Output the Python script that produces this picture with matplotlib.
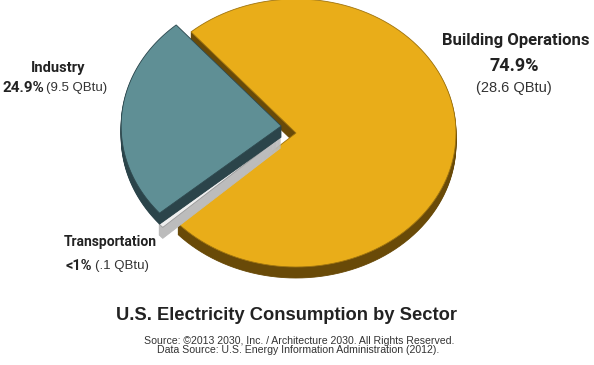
import numpy as np
import matplotlib
matplotlib.use("Agg")
import matplotlib.pyplot as plt
from matplotlib.patches import Polygon

# data (QBtu)
sectors = ["Industry", "Transportation", "Building Operations"]
qbtu = [9.5, 0.1, 28.6]
pct_labels = ["24.9%", "<1%", "74.9%"]
qbtu_labels = ["(9.5 QBtu)", "(.1 QBtu)", "(28.6 QBtu)"]

top_colors = ["#5f8f95", "#eeeeee", "#e9ad19"]
side_colors = ["#2b444a", "#bcbcbc", "#694a08"]
edge_colors = ["#2f4a50", "#9a9a9a", "#a07510"]
explode = [17, 16, 0]

W, H = 594, 365
fig = plt.figure(figsize=(W / 100, H / 100), dpi=100)
ax = fig.add_axes([0, 0, 1, 1])
ax.set_xlim(0, W)
ax.set_ylim(H, 0)
ax.axis("off")

cx, cy = 296, 133      # pie centre in pixels
rx, ry = 160, 134      # tilted ellipse radii
depth = 11
start = 131
tilt = -25             # explode direction is turned a little upward

vals = np.array(qbtu, dtype=float)
spans = vals / vals.sum() * 360
spans[1] = max(spans[1], 2.0)     # keep the sliver visible
spans[2] = 360 - spans[0] - spans[1]
edges = start + np.concatenate([[0], np.cumsum(spans)])


def wedge_pts(i):
    t0, t1 = edges[i], edges[i + 1]
    mid = np.radians((t0 + t1) / 2 + tilt)
    ox = explode[i] * np.cos(mid)
    oy = -explode[i] * np.sin(mid) * ry / rx
    t = np.radians(np.linspace(t0, t1, 120))
    xs = cx + ox + rx * np.cos(t)
    ys = cy + oy - ry * np.sin(t)
    return np.column_stack([np.r_[cx + ox, xs], np.r_[cy + oy, ys]])


for i in [2, 1, 0]:
    pts = wedge_pts(i)
    for k in range(depth, 0, -1):
        ax.add_patch(Polygon(pts + [0, k], closed=True, fc=side_colors[i],
                             ec=side_colors[i], lw=0.6))
    ax.add_patch(Polygon(pts, closed=True, fc=top_colors[i],
                         ec=edge_colors[i], lw=0.6))

bold = dict(family=["Roboto", "DejaVu Sans"], weight="bold", color="#222222")
reg = dict(family=["Liberation Sans", "DejaVu Sans"], color="#333333")

# Industry
ax.text(58, 68, sectors[0], ha="center", va="center", fontsize=10.5, **bold)
ax.text(44, 88, pct_labels[0], ha="right", va="center", fontsize=11, **bold)
ax.text(46, 88, qbtu_labels[0], ha="left", va="center", fontsize=9.5, **reg)

# Building Operations
ax.text(590, 41, sectors[2], ha="right", va="center", fontsize=12, **bold)
ax.text(514, 66, pct_labels[2], ha="center", va="center", fontsize=13, **bold)
ax.text(514, 88, qbtu_labels[2], ha="center", va="center", fontsize=10.5, **reg)

# Transportation
ax.text(110, 242, sectors[1], ha="center", va="center", fontsize=10, **bold)
ax.text(92, 266, pct_labels[1], ha="right", va="center", fontsize=10.5, **bold)
ax.text(95, 266, qbtu_labels[1], ha="left", va="center", fontsize=9.5, **reg)

ax.text(287, 315, "U.S. Electricity Consumption by Sector", ha="center",
        va="center", fontsize=13.2, family=["Liberation Sans", "DejaVu Sans"],
        weight="bold", color="#222222")
ax.text(299, 341, "Source: \u00a92013 2030, Inc. / Architecture 2030. All Rights Reserved.",
        ha="center", va="center", fontsize=7.6, **reg)
ax.text(298, 350, "Data Source: U.S. Energy Information Administration (2012).",
        ha="center", va="center", fontsize=7.6, **reg)

fig.savefig("out.png", dpi=100)
